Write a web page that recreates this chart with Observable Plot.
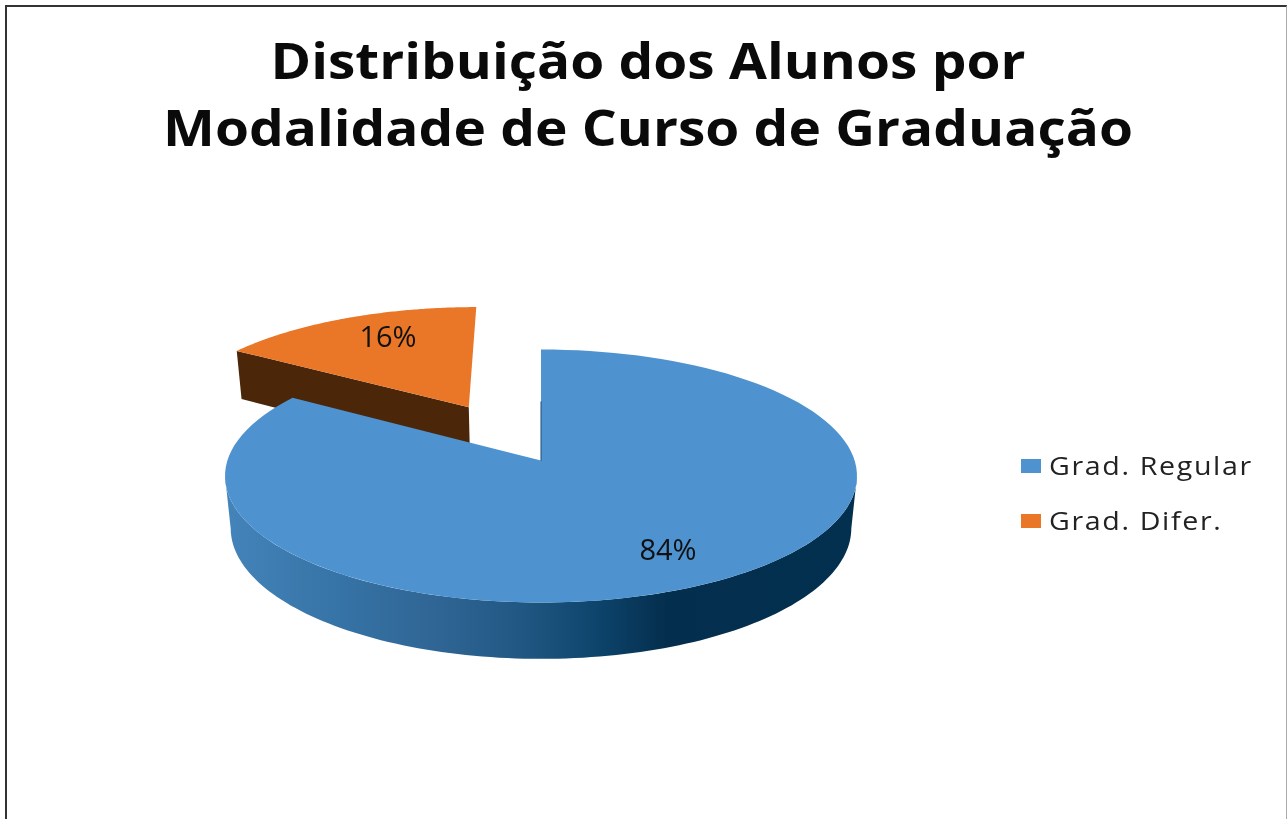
<!DOCTYPE html>
<html lang="pt">
<head>
<meta charset="utf-8">
<script src="https://cdn.jsdelivr.net/npm/d3@7"></script>
<script src="https://cdn.jsdelivr.net/npm/@observablehq/plot@0.6"></script>
<style>
  html, body { margin: 0; padding: 0; background: #fff; width: 1288px; height: 819px; overflow: hidden; }
  #root { position: relative; width: 1288px; height: 819px; overflow: hidden; filter: blur(0.7px); }
  #frame { position: absolute; left: 5px; top: 5px; width: 1282px; height: 830px; box-sizing: border-box;
           border: 2px solid #333; border-right: 1px solid #aaa; }
  #chart { position: absolute; left: 0; top: 0; }
  #chart svg { display: block; background: transparent; }
  #title { position: absolute; left: 0; top: 27px; width: 1296px; text-align: center; color: #0a0a0a;
           font: 700 50px/67px "Open Sans", sans-serif; transform: scaleX(1.1); transform-origin: 648px 0; }
  #legend { position: absolute; left: 1021px; top: 438px; font: 400 26px/55px "Open Sans", sans-serif;
            color: #222; letter-spacing: 1.5px; white-space: nowrap; }
  #legend .row { display: flex; align-items: center; height: 55px; }
  #legend .swatch { width: 20px; height: 14px; margin-right: 8px; }
  #legend .label { display: inline-block; transform: scaleX(1.1); transform-origin: 0 50%; }
</style>
</head>
<body>
<div id="root">
  <div id="frame"></div>
  <div id="chart"></div>
  <div id="title"></div>
  <div id="legend"></div>
</div>
<script>
// Data
const titleLines = ["Distribuição dos Alunos por", "Modalidade de Curso de Graduação"];
const categories = ["Grad. Regular", "Grad. Difer."];
const shares = [84, 16];
const colors = ["#4e93d0", "#ea7727"];
const wallColor = "#4b2609";
const rimStops = [
  [0, "#4484ba"], [0.18, "#3673a6"], [0.34, "#2f6594"], [0.48, "#1f5681"],
  [0.58, "#0e466e"], [0.7, "#042e4d"], [1, "#03304f"]
];

// Perspective view of the pie (unit circle on a tilted plane)
const perspective = 0.1225, drop = 0.417, shrink = 0.018;
const explode = [-0.243, 0.45];
const labelRadius = 0.76;

const total = d3.sum(shares);
const regularSweep = shares[0] / total * 2 * Math.PI;
const fullTurn = 2 * Math.PI;

function project(u, v, lower = false) {
  const w = 1 + perspective * v;
  if (!lower) return { x: u / w, y: v / w };
  const wb = w + shrink;
  return { x: u / wb, y: v / wb - drop / w };
}
const onCircle = t => [Math.sin(t), Math.cos(t)];
const arc = (a, b) => d3.range(0, 121).map(i => onCircle(a + (b - a) * i / 120));
const shift = ([u, v]) => [u + explode[0], v + explode[1]];

// Regular slice: clockwise from 12 o'clock
const regularTop = [[0, 0], ...arc(0, regularSweep), [0, 0]].map(([u, v]) => project(u, v));
// Outer rim of the regular slice, between the two points where the ellipse is widest
const tangent = Math.acos(-perspective);
const frontArc = arc(tangent, fullTurn - tangent);
const rim = [...frontArc.map(([u, v]) => project(u, v)),
             ...frontArc.slice().reverse().map(([u, v]) => project(u, v, true))];
// Differentiated slice, pulled out of the pie
const diferArc = arc(regularSweep, fullTurn).map(shift);
const diferApex = shift([0, 0]);
const diferTop = [diferApex, ...diferArc, diferApex].map(([u, v]) => project(u, v));
const cutEnd = diferArc[0];
const diferWall = [project(...diferApex), project(...cutEnd),
                   project(...cutEnd, true), project(...diferApex, true)];
// Hairline on the cut edge of the regular slice
const cutLine = [project(0, 0), project(0, 0.5)];

const mid84 = onCircle(regularSweep / 2).map(c => c * labelRadius);
const mid16 = shift(onCircle((regularSweep + fullTurn) / 2).map(c => c * labelRadius));
const pct = s => `${s}%`;

const plot = Plot.plot({
  width: 1288,
  height: 819,
  margin: 0,
  style: { background: "transparent" },
  x: { domain: [-1, 1], range: [226.9, 854.1], axis: null },
  y: { domain: [-1, 1], range: [584.6, 335.4], axis: null },
  marks: [
    () => {
      const svgNS = "http://www.w3.org/2000/svg";
      const defs = document.createElementNS(svgNS, "defs");
      const g = document.createElementNS(svgNS, "linearGradient");
      g.setAttribute("id", "rimShade");
      for (const [o, c] of rimStops) {
        const s = document.createElementNS(svgNS, "stop");
        s.setAttribute("offset", o);
        s.setAttribute("stop-color", c);
        g.appendChild(s);
      }
      defs.appendChild(g);
      return defs;
    },
    Plot.line(diferWall, { x: "x", y: "y", fill: wallColor, stroke: null, curve: "linear-closed" }),
    Plot.line(diferTop, { x: "x", y: "y", fill: colors[1], stroke: null, curve: "linear-closed" }),
    Plot.line(rim, { x: "x", y: "y", fill: "url(#rimShade)", stroke: null, curve: "linear-closed" }),
    Plot.line(regularTop, { x: "x", y: "y", fill: colors[0], stroke: null, curve: "linear-closed" }),
    Plot.line(cutLine, { x: "x", y: "y", stroke: "#1d4f78", strokeWidth: 1 }),
    Plot.text([project(...mid84)], { x: "x", y: "y", text: () => pct(shares[0]),
      fontSize: 29, fontFamily: "Open Sans", fill: "#111", dx: 2 }),
    Plot.text([project(...mid16)], { x: "x", y: "y", text: () => pct(shares[1]),
      fontSize: 29, fontFamily: "Open Sans", fill: "#111", dx: 15 })
  ]
});
document.getElementById("chart").appendChild(plot);

document.getElementById("title").innerHTML = titleLines.map(t => `<div>${t}</div>`).join("");
document.getElementById("legend").innerHTML = categories.map((c, i) =>
  `<div class="row"><span class="swatch" style="background:${colors[i]}"></span><span class="label">${c}</span></div>`).join("");
</script>
</body>
</html>
